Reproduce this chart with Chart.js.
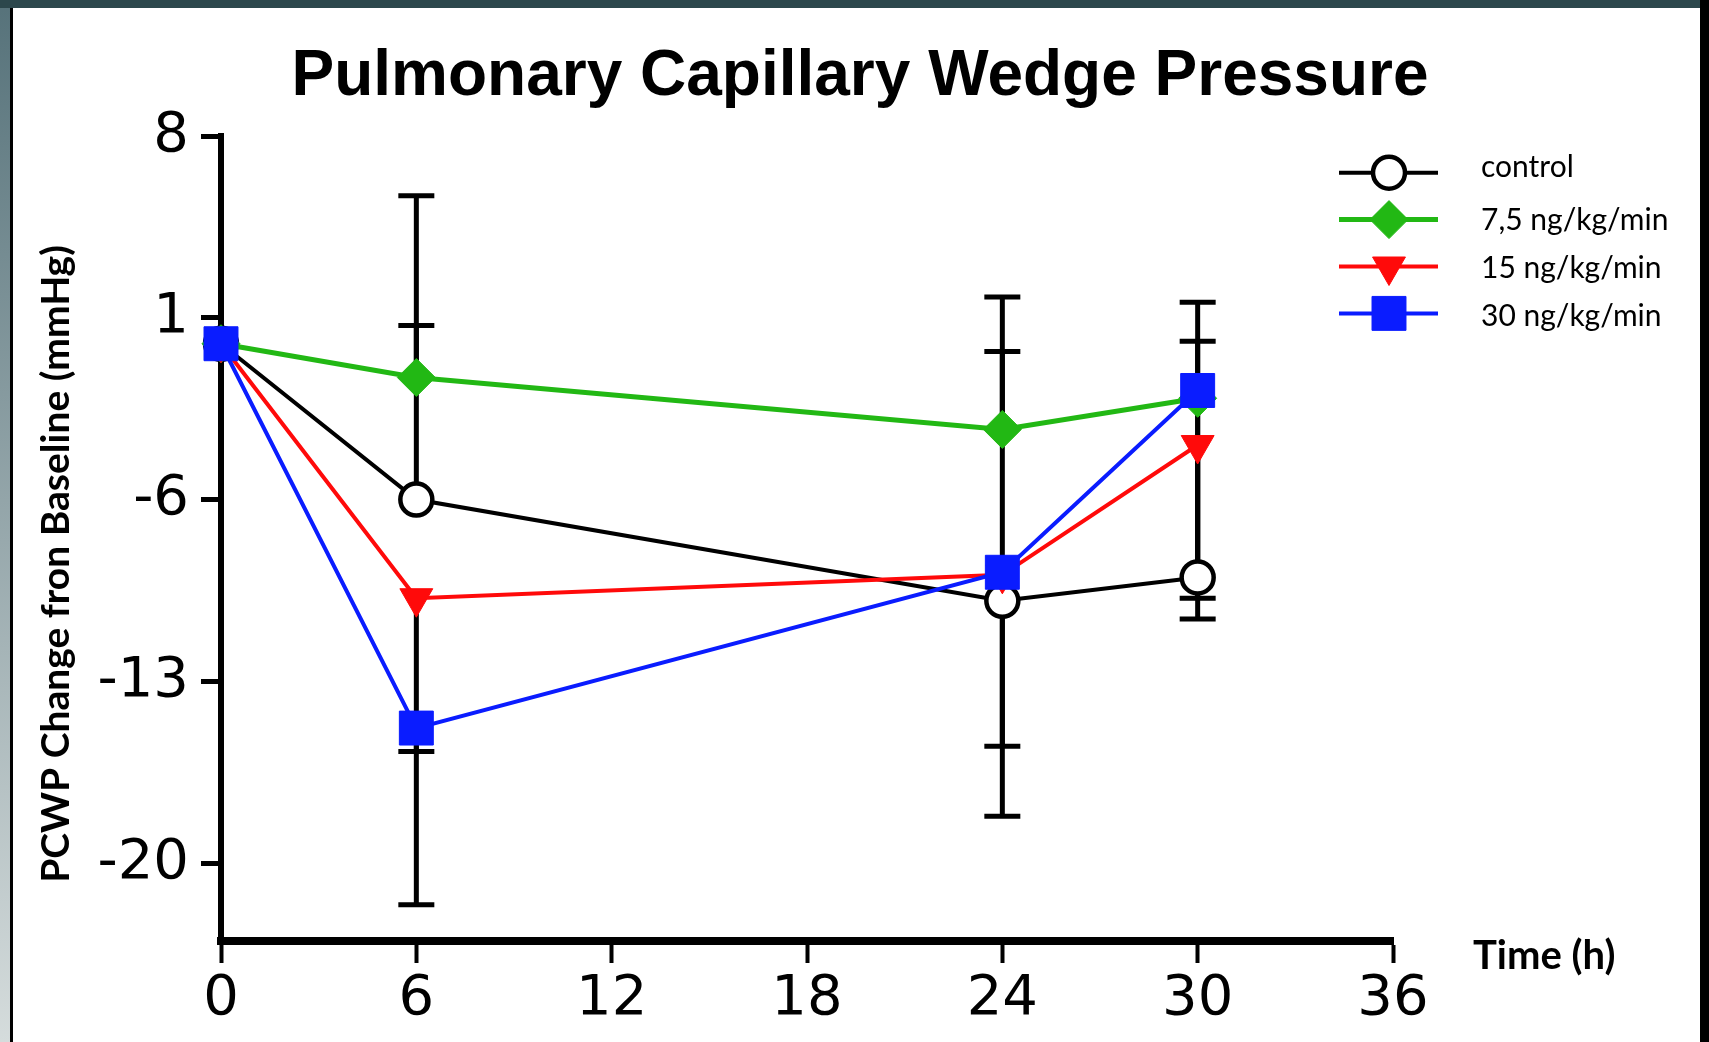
<!doctype html>
<html lang="en">

<head>
    <meta charset="utf-8">
    <title>Pulmonary Capillary Wedge Pressure</title>
    <style>
        * {
            margin: 0;
            padding: 0;
        }

        body {
            width: 1709px;
            height: 1042px;
            overflow: hidden;
            position: relative;
            background: linear-gradient(#56727a, #d5dcdc);
        }

        .topBar {
            position: absolute;
            left: 0;
            top: 0;
            width: 1709px;
            height: 8px;
            background: #2c474c;
        }

        .panel {
            position: absolute;
            left: 10px;
            top: 8px;
            width: 1690px;
            height: 1034px;
            background: white;
            border-left: 3px solid black;
            box-sizing: border-box;
        }

        .rightBar {
            position: absolute;
            left: 1700px;
            top: 0;
            width: 9px;
            height: 1042px;
            background: black;
        }

        #myChart {
            position: absolute;
            left: 0;
            top: 0;
        }
    </style>
</head>

<body>
    <div class="topBar"></div>
    <div class="panel"></div>
    <div class="rightBar"></div>
    <canvas id="myChart" width="1709" height="1042"></canvas>

    <script src="https://cdn.jsdelivr.net/npm/chart.js"></script>
    <script>
        // data
        const times = [0, 6, 24, 30]
        const control = [0, -6, -9.9, -9.0]
        const dose75 = [0, -1.3, -3.3, -2.1]
        const dose15 = [0, -9.8, -8.9, -3.9]
        const dose30 = [0, -14.8, -8.8, -1.8]

        // error bars (one-sided, as drawn in the figure)
        const controlSD = [0, 11.7, 11.7, 10.6]
        const dose75SD = [0, 2.0, 3.0, 2.2]
        const dose15SD = [0, 11.8, 9.3, 6.7]
        const dose30SD = [0, 0.9, 6.7, 8.0]

        const seriesNames = ['control', '7,5 ng/kg/min', '15 ng/kg/min', '30 ng/kg/min']
        const xTicks = [0, 6, 12, 18, 24, 30, 36]
        const yTicks = [8, 1, -6, -13, -20]

        const toPoints = (vals) => times.map((t, i) => ({ x: t, y: vals[i] }))

        const data = {
            datasets: [{
                label: seriesNames[0],
                data: toPoints(control),
                errors: controlSD,
                errDir: 1,
                borderColor: '#000',
                borderWidth: 4,
                pointStyle: 'circle',
                pointRadius: 16,
                pointBorderWidth: 4.5,
                pointBackgroundColor: '#fff',
                pointBorderColor: '#000',
                order: 4
            }, {
                label: seriesNames[1],
                data: toPoints(dose75),
                errors: dose75SD,
                errDir: 1,
                borderColor: '#22b814',
                borderWidth: 5,
                pointStyle: 'rectRot',
                pointRadius: 19,
                pointBorderWidth: 1,
                pointBackgroundColor: '#22b814',
                pointBorderColor: '#22b814',
                order: 3
            }, {
                label: seriesNames[2],
                data: toPoints(dose15),
                errors: dose15SD,
                errDir: -1,
                borderColor: '#ff0a0a',
                borderWidth: 4,
                pointStyle: 'triangle',
                pointRotation: 180,
                pointRadius: 19,
                pointBorderWidth: 1,
                pointBackgroundColor: '#ff0a0a',
                pointBorderColor: '#ff0a0a',
                order: 2
            }, {
                label: seriesNames[3],
                data: toPoints(dose30),
                errors: dose30SD,
                errDir: -1,
                borderColor: '#0a1cff',
                borderWidth: 4,
                pointStyle: 'rect',
                pointRadius: 24,
                pointBorderWidth: 1,
                pointBackgroundColor: '#0a1cff',
                pointBorderColor: '#0a1cff',
                order: 1
            }]
        }

        // black error bars, drawn under the lines and markers
        const errorBars = {
            id: 'errorBars',
            beforeDatasetsDraw(chart) {
                const { ctx, scales: { x, y } } = chart
                ctx.save()
                ctx.strokeStyle = '#000'
                ctx.lineWidth = 5
                chart.data.datasets.forEach(ds => {
                    ds.data.forEach((p, i) => {
                        const e = ds.errors[i]
                        if (!e) return
                        const px = x.getPixelForValue(p.x)
                        const y0 = y.getPixelForValue(p.y)
                        const y1 = y.getPixelForValue(p.y + ds.errDir * e)
                        ctx.beginPath()
                        ctx.moveTo(px, y0)
                        ctx.lineTo(px, y1)
                        ctx.moveTo(px - 18, y1)
                        ctx.lineTo(px + 18, y1)
                        ctx.stroke()
                    })
                })
                ctx.restore()
            }
        }

        // title, axis titles and the line+marker legend
        const labels = {
            id: 'labels',
            afterDraw(chart) {
                const { ctx } = chart
                ctx.save()
                ctx.fillStyle = '#000'

                ctx.font = 'bold 64px "Liberation Sans", Arial, sans-serif'
                ctx.textAlign = 'center'
                ctx.textBaseline = 'alphabetic'
                ctx.fillText('Pulmonary Capillary Wedge Pressure', 860, 95)

                ctx.font = 'bold 39px Lato, sans-serif'
                ctx.textBaseline = 'middle'
                ctx.save()
                ctx.translate(56, 564)
                ctx.rotate(-Math.PI / 2)
                ctx.fillText('PCWP Change fron Baseline (mmHg)', 0, 0)
                ctx.restore()

                ctx.font = 'bold 40px Lato, sans-serif'
                ctx.textAlign = 'left'
                ctx.fillText('Time (h)', 1473, 956)

                const textShift = [-5, 1, 2, 3]
                chart.data.datasets.forEach((ds, i) => {
                    const rowY = 172.7 + i * 46.9
                    ctx.strokeStyle = ds.borderColor
                    ctx.lineWidth = ds.borderWidth
                    ctx.beginPath()
                    ctx.moveTo(1339, rowY)
                    ctx.lineTo(1438, rowY)
                    ctx.stroke()

                    ctx.fillStyle = ds.pointBackgroundColor
                    ctx.strokeStyle = ds.pointBorderColor
                    ctx.lineWidth = ds.pointBorderWidth
                    Chart.helpers.drawPoint(ctx, {
                        pointStyle: ds.pointStyle,
                        radius: ds.pointRadius,
                        rotation: ds.pointRotation || 0,
                        borderWidth: ds.pointBorderWidth
                    }, 1389, rowY)

                    ctx.fillStyle = '#000'
                    ctx.font = '30px Lato, sans-serif'
                    ctx.textAlign = 'left'
                    ctx.fillText(ds.label, 1481, rowY + textShift[i])
                })
                ctx.restore()
            }
        }

        const tickFont = { family: '"DejaVu Sans", Verdana, sans-serif', size: 56 }

        const config = {
            type: 'line',
            data,
            options: {
                responsive: false,
                animation: false,
                events: [],
                clip: false,
                layout: {
                    padding: { left: 0, right: 316, top: 136, bottom: 0 }
                },
                plugins: {
                    legend: { display: false },
                    tooltip: { enabled: false },
                    title: { display: false }
                },
                datasets: {
                    line: { clip: false, tension: 0 }
                },
                scales: {
                    x: {
                        type: 'linear',
                        min: 0,
                        max: 36,
                        afterBuildTicks: (scale) => {
                            scale.ticks = xTicks.map(v => ({ value: v }))
                        },
                        afterFit: (scale) => {
                            scale.height = 101
                        },
                        ticks: {
                            autoSkip: false,
                            maxRotation: 0,
                            padding: 3,
                            color: '#000',
                            font: tickFont
                        },
                        grid: {
                            drawOnChartArea: false,
                            drawTicks: true,
                            tickLength: 22,
                            tickWidth: 4,
                            tickColor: '#000'
                        },
                        border: { display: true, color: '#000', width: 8 }
                    },
                    y: {
                        min: -23,
                        max: 8,
                        afterBuildTicks: (scale) => {
                            scale.ticks = yTicks.map(v => ({ value: v }))
                        },
                        afterFit: (scale) => {
                            scale.width = 221
                        },
                        ticks: {
                            padding: 12,
                            color: '#000',
                            font: tickFont
                        },
                        grid: {
                            drawOnChartArea: false,
                            drawTicks: true,
                            tickLength: 20,
                            tickWidth: 5,
                            tickColor: '#000'
                        },
                        border: { display: true, color: '#000', width: 6 }
                    }
                }
            },
            plugins: [errorBars, labels]
        }

        const myChart = new Chart(document.getElementById('myChart'), config)
    </script>
</body>

</html>
